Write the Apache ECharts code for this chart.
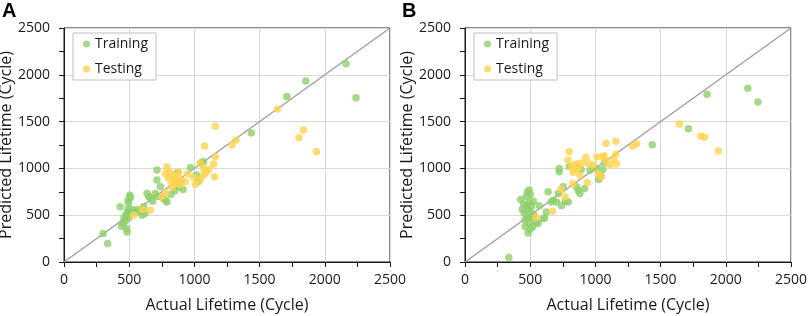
<!doctype html>
<html lang="en">
<head>
<meta charset="UTF-8">
<script src="https://cdn.jsdelivr.net/npm/echarts@6/dist/echarts.min.js"></script>
<title>Predicted vs Actual Lifetime</title>
<style>
  html, body { margin: 0; padding: 0; background: #fff; }
</style>
</head>
<body>
<div id="main" style="width: 809px;height:316px;"></div>
<script>
// panel A
var trainA = [[300,304],[335,197],[430,589],[440,382],[455,420],[460,470],[470,440],[475,500],[480,357],[484,321],
  [485,520],[490,560],[495,470],[500,540],[491,660],[504,714],[495,628],[510,690],[520,560],[540,530],
  [560,560],[586,535],[600,500],[611,589],[620,520],[637,732],[650,700],[660,680],[680,650],[700,732],
  [713,982],[713,875],[720,700],[739,803],[760,680],[777,660],[790,642],[820,720],[850,760],[867,953],
  [880,800],[913,775],[969,1010],[1015,930],[1030,860],[1050,1060],[1070,1071],[1436,1378],[1709,1767],
  [1854,1935],[2163,2117],[2240,1756]];
var testA = [[535,500],[600,560],[662,553],[752,696],[780,740],[790,1017],[777,946],[800,900],[810,960],[820,860],
  [830,800],[840,920],[850,880],[860,840],[870,900],[880,960],[890,830],[900,870],[930,857],[950,940],
  [994,903],[1006,829],[1045,1053],[1045,882],[1070,1000],[1070,928],[1090,960],[1109,989],[1147,1046],
  [1160,1124],[1155,910],[1078,1239],[1160,1450],[1288,1250],[1318,1300],[1637,1635],[1836,1410],
  [1803,1328],[1936,1178]];
// panel B
var trainB = [[336,47],[427,668],[440,560],[450,620],[455,520],[460,450],[462,380],[470,700],[475,600],[478,480],
  [480,750],[484,311],[485,560],[490,420],[492,770],[495,640],[500,350],[500,720],[505,540],[510,600],
  [515,470],[520,380],[525,650],[530,500],[545,420],[561,411],[570,600],[599,464],[610,470],[624,535],
  [637,750],[660,640],[676,660],[702,642],[715,732],[722,1000],[722,964],[740,600],[753,803],[770,650],
  [792,642],[800,1020],[855,803],[870,760],[881,732],[890,989],[917,785],[960,980],[1010,1000],[1026,882],
  [1040,920],[1057,989],[1070,1060],[1436,1253],[1713,1424],[1856,1792],[2169,1856],[2246,1710]];
var testB = [[543,475],[670,543],[736,775],[766,696],[790,1089],[799,1178],[818,1017],[830,960],[840,1040],[850,1000],
  [860,1050],[870,1010],[881,928],[825,839],[900,1060],[927,1117],[937,850],[950,1046],[983,1035],[1011,1124],
  [1021,946],[1047,910],[1057,1124],[1080,1080],[1111,1035],[1140,1100],[1162,1046],[1067,1135],[1157,1150],
  [1081,1267],[1157,1289],[1286,1239],[1316,1263],[1644,1474],[1808,1346],[1838,1332],[1943,1185]];
var panels = ['A', 'B'];
var legendNames = ['Training', 'Testing'];
var diag = [[0, 0], [2500, 2500]];

var FONT = 'Open Sans';
var INK = '#1a1a1a';
var green = '#8fd06b', yellow = '#ffd34d';

// main axes: labels, gridlines, names
function axis(idx, name, isY) {
    return {
        type: 'value', gridIndex: idx, min: 0, max: 2500, interval: 500,
        position: isY ? 'left' : 'bottom',
        name: name, nameLocation: 'middle', nameGap: isY ? 38 : 35,
        nameTextStyle: {fontFamily: FONT, fontSize: 16, color: INK},
        axisLine: {show: true, lineStyle: {color: INK, width: 1}},
        axisTick: {show: false},
        axisLabel: {fontFamily: FONT, fontSize: 14, color: INK, margin: isY ? 14 : 11,
            formatter: function (v) { return String(v); }},
        splitLine: {show: true, lineStyle: {color: '#d9d9d9', width: 1}}
    };
}
// tick-only axes every 250
function tickAxis(idx, isY) {
    return {
        type: 'value', gridIndex: idx, min: 0, max: 2500, interval: 250,
        position: isY ? 'left' : 'bottom', offset: 0,
        axisLine: {show: false}, axisLabel: {show: false}, splitLine: {show: false},
        axisTick: {show: true, length: 5, lineStyle: {color: INK}}
    };
}

function scatter(name, idx, data, color) {
    return {
        name: name, type: 'scatter', xAxisIndex: idx, yAxisIndex: idx,
        data: data, symbolSize: 7.5, itemStyle: {color: color}, z: 3
    };
}

var myChart = echarts.init(document.getElementById('main'));
var option = {
    animation: false,
    title: [
        {text: panels[0], left: 2, top: 1, padding: 0, textStyle: {fontFamily: 'Liberation Sans', fontWeight: 'bold', fontSize: 20, color: '#000'}},
        {text: panels[1], left: 402, top: 1, padding: 0, textStyle: {fontFamily: 'Liberation Sans', fontWeight: 'bold', fontSize: 20, color: '#000'}}
    ],
    grid: [
        {left: 64, right: 419, top: 28, bottom: 54, show: true, borderColor: INK, borderWidth: 1, outerBoundsMode: 'none'},
        {left: 465, right: 18, top: 28, bottom: 54, show: true, borderColor: INK, borderWidth: 1, outerBoundsMode: 'none'}
    ],
    legend: [0, 1].map(function (i) {
        return {
            data: legendNames, orient: 'vertical',
            left: i === 0 ? 73 : 474, top: 33,
            padding: [4, 8, 4, 10], itemGap: 11,
            itemWidth: 7, itemHeight: 7, icon: 'circle',
            borderColor: '#bfbfbf', borderWidth: 1, backgroundColor: '#fff',
            textStyle: {fontFamily: FONT, fontSize: 14, color: INK}
        };
    }),
    xAxis: [axis(0, 'Actual Lifetime (Cycle)', false), axis(1, 'Actual Lifetime (Cycle)', false),
        tickAxis(0, false), tickAxis(1, false)],
    yAxis: [axis(0, 'Predicted Lifetime (Cycle)', true), axis(1, 'Predicted Lifetime (Cycle)', true),
        tickAxis(0, true), tickAxis(1, true)],
    series: [
        {type: 'line', xAxisIndex: 0, yAxisIndex: 0, data: diag, showSymbol: false, silent: true,
            lineStyle: {color: '#a0a0a0', width: 1.5}, z: 2},
        {type: 'line', xAxisIndex: 1, yAxisIndex: 1, data: diag, showSymbol: false, silent: true,
            lineStyle: {color: '#a0a0a0', width: 1.5}, z: 2},
        scatter('Training', 0, trainA, green),
        scatter('Testing', 0, testA, yellow),
        scatter('Training', 1, trainB, green),
        scatter('Testing', 1, testB, yellow)
    ]
};
myChart.setOption(option);
</script>
</body>
</html>
